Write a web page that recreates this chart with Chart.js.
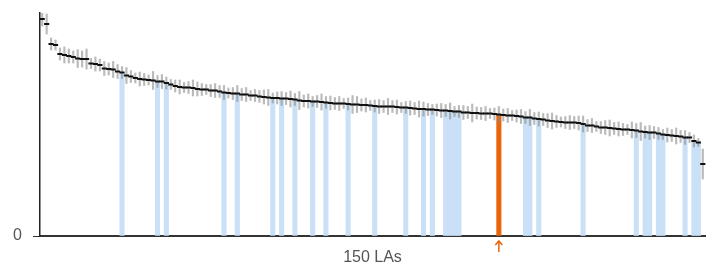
<!DOCTYPE html>
<html>
<head>
<meta charset="utf-8">
<script src="https://cdn.jsdelivr.net/npm/chart.js@4/dist/chart.umd.min.js"></script>
<style>
  html, body { margin: 0; padding: 0; background: #fff; }
  #wrap { width: 714px; height: 267px; }
</style>
</head>
<body>
<div id="wrap"><canvas id="chart"></canvas></div>
<script>
// value per LA, sorted high to low
const values = [
  217, 212, 192, 191, 182, 181, 180, 179, 177.5, 177,
  177, 172.5, 172, 171, 167.5, 167, 166.5, 164.5, 163.5, 160.5,
  159.5, 158, 157, 156.5, 156, 155.5, 154.5, 154.5, 153, 151.5,
  150, 149, 148.5, 148.5, 148, 147, 146.5, 146.5, 145.5, 145.5,
  144.5, 143.5, 143, 142.5, 142.5, 141.5, 141.5, 140.5, 140.5, 139.5,
  139, 138.5, 138, 138, 137.5, 137.5, 137, 136.5, 135.5, 135,
  135, 134.5, 134.5, 134, 133.5, 133, 132.5, 132.5, 132.5, 132,
  131.5, 131.5, 131, 131, 130.5, 130, 129.5, 129.5, 129.5, 129.5,
  129, 128.5, 128.5, 128, 127.5, 127, 127, 126.5, 126.5, 126,
  125.5, 125.5, 125, 124.5, 124.5, 123.5, 123.5, 123, 123, 122.5,
  122.5, 122.5, 122, 121.5, 121, 120.5, 120.5, 120, 119.5, 118.5,
  118.5, 117.5, 117, 116.5, 115.5, 115, 114.5, 114, 113.5, 113.5,
  113.5, 113, 112, 110.5, 110.5, 109.5, 108.5, 108.5, 108, 107.5,
  107, 106.5, 106.5, 106, 105.5, 104.5, 104, 103.5, 103.5, 102.5,
  101.5, 101, 100.5, 100, 99.5, 98.5, 98.5, 95, 93.5, 72
];

// half width of the confidence interval
const errors = [
  7, 10, 6, 5, 6, 8, 7, 6, 9, 8,
  10, 5, 7, 6, 7, 6, 8, 7, 6, 8,
  6, 5, 7, 6, 5, 9, 6, 7, 6, 5,
  6, 7, 5, 6, 8, 7, 6, 5, 6, 7,
  6, 7, 5, 6, 8, 6, 7, 5, 6, 6,
  7, 8, 5, 6, 7, 6, 8, 6, 9, 6,
  7, 5, 6, 8, 6, 7, 6, 7, 5, 6,
  9, 8, 6, 7, 5, 6, 7, 6, 8, 6,
  7, 5, 6, 7, 6, 8, 7, 6, 5, 6,
  7, 6, 8, 5, 6, 7, 6, 9, 6, 6,
  7, 5, 6, 8, 6, 7, 5, 6, 7, 6,
  8, 6, 7, 6, 7, 8, 6, 5, 6, 7,
  6, 7, 8, 6, 7, 5, 6, 7, 8, 6,
  7, 6, 5, 8, 7, 9, 6, 7, 6, 6,
  5, 7, 6, 8, 6, 7, 5, 6, 4, 15
];

// LAs shaded blue, and the one picked out in orange
const highlighted = [18, 26, 28, 41, 44, 52, 54, 57, 61, 64, 69, 75, 82, 86, 88,
  91, 92, 93, 94, 109, 110, 112, 122, 134, 136, 137, 139, 140, 145, 147, 148];
const selected = 103;

const labels = values.map((v, i) => "LA " + (i + 1));

const blueData = values.map((v, i) => highlighted.includes(i) ? v : null);
const orangeData = values.map((v, i) => i === selected ? v : null);
const ciData = values.map((v, i) => [v - errors[i], v + errors[i]]);

const arrowPlugin = {
  id: "arrow",
  afterDraw(chart) {
    const ctx = chart.ctx;
    const x = chart.scales.x.getPixelForValue(selected);
    const y0 = chart.chartArea.bottom;
    ctx.save();
    ctx.strokeStyle = "#e8650c";
    ctx.lineWidth = 1.5;
    ctx.beginPath();
    ctx.moveTo(x, y0 + 16);
    ctx.lineTo(x, y0 + 5);
    ctx.moveTo(x - 3.5, y0 + 9);
    ctx.lineTo(x, y0 + 5);
    ctx.lineTo(x + 3.5, y0 + 9);
    ctx.stroke();
    ctx.restore();
  }
};

new Chart(document.getElementById("chart"), {
  type: "bar",
  data: {
    labels: labels,
    datasets: [
      {
        type: "line",
        data: values,
        showLine: false,
        pointStyle: "line",
        pointRadius: 2.6,
        pointBorderWidth: 2,
        pointBorderColor: "#111",
        order: 1
      },
      {
        data: ciData,
        backgroundColor: "rgba(140,140,140,0.6)",
        barThickness: 1.5,
        grouped: false,
        order: 2
      },
      {
        data: orangeData,
        backgroundColor: "#e8650c",
        barPercentage: 1,
        categoryPercentage: 1,
        grouped: false,
        order: 3
      },
      {
        data: blueData,
        backgroundColor: "#c9e0f6",
        barPercentage: 1,
        categoryPercentage: 1,
        grouped: false,
        order: 4
      }
    ]
  },
  options: {
    responsive: true,
    maintainAspectRatio: false,
    animation: false,
    layout: { autoPadding: false, padding: { top: 13, right: 9, left: 0, bottom: 0 } },
    plugins: { legend: { display: false }, tooltip: { enabled: false } },
    scales: {
      x: {
        grid: { display: false },
        ticks: { display: false },
        border: { color: "#333", width: 2 },
        title: {
          display: true,
          text: "150 LAs",
          color: "#555",
          font: { family: "Arial, 'Liberation Sans', sans-serif", size: 16 },
          padding: { top: 4, bottom: 0 }
        },
        afterFit(scale) { scale.height = 31; }
      },
      y: {
        min: 0,
        max: 223,
        afterBuildTicks(scale) { scale.ticks = [{ value: 0 }]; },
        grid: { drawOnChartArea: false, drawTicks: true, tickLength: 7, color: "#333" },
        border: { color: "#222", width: 1.5 },
        ticks: {
          color: "#555",
          padding: 11,
          font: { family: "Arial, 'Liberation Sans', sans-serif", size: 16 }
        },
        afterFit(scale) {
          scale.width = 40;
          scale.paddingTop = 0;
          scale.paddingBottom = 0;
        }
      }
    }
  },
  plugins: [arrowPlugin]
});
</script>
</body>
</html>
